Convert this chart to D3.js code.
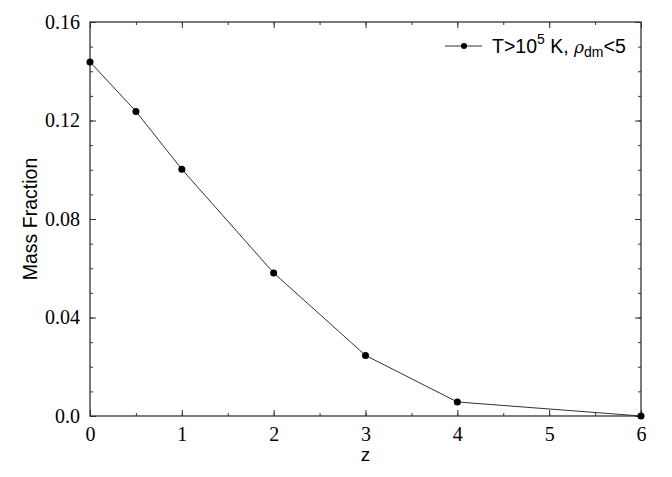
<!DOCTYPE html>
<html>
<head>
<meta charset="utf-8">
<script src="https://cdn.jsdelivr.net/npm/d3@7"></script>
<style>
  html, body { margin: 0; padding: 0; background: #fff; }
  svg { display: block; }
</style>
</head>
<body>
<svg id="chart" width="672" height="477"></svg>
<script>
// Data
const zValues = [0, 0.5, 1, 2, 3, 4, 6];
const massFraction = [0.1438, 0.1237, 0.1002, 0.0581, 0.0246, 0.0057, 0.0];
const xTickValues = [0, 1, 2, 3, 4, 5, 6];
const xTickLabels = ["0", "1", "2", "3", "4", "5", "6"];
const yTickValues = [0, 0.04, 0.08, 0.12, 0.16];
const yTickLabels = ["0.0", "0.04", "0.08", "0.12", "0.16"];

const svg = d3.select("#chart");
const margin = { left: 90, right: 31, top: 22, bottom: 61 };
const W = 672, H = 477;
const x = d3.scaleLinear().domain([0, 6]).range([margin.left, W - margin.right]);
const y = d3.scaleLinear().domain([0, 0.16]).range([H - margin.bottom, margin.top]);

const axisColor = "#333";
const SERIF = '"Liberation Serif"';
const SANS = '"Liberation Sans"';

const xMinor = d3.range(0, 6.001, 0.5);
const yMinor = d3.range(0, 0.1601, 0.01);

function styleAxis(g) {
  g.select(".domain").remove();
  g.selectAll(".tick line").attr("stroke", axisColor).attr("stroke-width", 1);
}
function serifText(g) {
  g.selectAll("text").style("font-family", SERIF).style("font-size", "20px").attr("fill", "#000");
}

// bottom axis (major, labelled)
svg.append("g").attr("transform", `translate(0,${y(0)})`)
  .call(d3.axisBottom(x).tickValues(xTickValues).tickSize(-6).tickPadding(11)
    .tickFormat((d, i) => xTickLabels[i]))
  .call(styleAxis).call(serifText);
svg.append("g").attr("transform", `translate(0,${y(0)})`)
  .call(d3.axisBottom(x).tickValues(xMinor).tickSize(-3).tickFormat(""))
  .call(styleAxis);
// top
svg.append("g").attr("transform", `translate(0,${y(0.16)})`)
  .call(d3.axisTop(x).tickValues(xTickValues).tickSize(-6).tickFormat(""))
  .call(styleAxis);
svg.append("g").attr("transform", `translate(0,${y(0.16)})`)
  .call(d3.axisTop(x).tickValues(xMinor).tickSize(-3).tickFormat(""))
  .call(styleAxis);

// left axis
svg.append("g").attr("transform", `translate(${x(0)},0)`)
  .call(d3.axisLeft(y).tickValues(yTickValues).tickSize(-6).tickPadding(10)
    .tickFormat((d, i) => yTickLabels[i]))
  .call(styleAxis).call(serifText);
svg.append("g").attr("transform", `translate(${x(0)},0)`)
  .call(d3.axisLeft(y).tickValues(yMinor).tickSize(-3).tickFormat(""))
  .call(styleAxis);
// right axis
svg.append("g").attr("transform", `translate(${x(6)},0)`)
  .call(d3.axisRight(y).tickValues(yTickValues).tickSize(-6).tickFormat(""))
  .call(styleAxis);
svg.append("g").attr("transform", `translate(${x(6)},0)`)
  .call(d3.axisRight(y).tickValues(yMinor).tickSize(-3).tickFormat(""))
  .call(styleAxis);

// frame
svg.append("rect")
  .attr("x", x(0)).attr("y", y(0.16))
  .attr("width", x(6) - x(0)).attr("height", y(0) - y(0.16))
  .attr("fill", "none").attr("stroke", axisColor).attr("stroke-width", 1.3);

// data line
const data = zValues.map((z, i) => ({ z, v: massFraction[i] }));
svg.append("path").datum(data)
  .attr("fill", "none").attr("stroke", "#333").attr("stroke-width", 1)
  .attr("d", d3.line().x(d => x(d.z)).y(d => y(d.v)));
svg.append("g").selectAll("circle").data(data).join("circle")
  .attr("cx", d => x(d.z)).attr("cy", d => y(d.v)).attr("r", 3.5).attr("fill", "#000");

// axis titles
svg.append("text").style("font-family", SANS).attr("x", (x(0) + x(6)) / 2).attr("y", 461)
  .attr("text-anchor", "middle").style("font-size", "19px")
  .text("z");
svg.append("text").style("font-family", SANS)
  .attr("transform", `translate(37,${(y(0) + y(0.16)) / 2}) rotate(-90)`)
  .attr("text-anchor", "middle").style("font-size", "19.5px")
  .text("Mass Fraction");

// legend
const legY = 46;
svg.append("line").attr("x1", 445).attr("x2", 482).attr("y1", legY).attr("y2", legY)
  .attr("stroke", "#333").attr("stroke-width", 1);
svg.append("circle").attr("cx", 464).attr("cy", legY).attr("r", 3).attr("fill", "#000");
const lt = svg.append("text").style("font-family", SANS).attr("x", 492).attr("y", 53)
  .style("font-size", "19.5px").attr("fill", "#000");
lt.append("tspan").text("T>10");
lt.append("tspan").attr("dy", -9).style("font-size", "14px").text("5");
lt.append("tspan").attr("dy", 9).text(" K, ");
lt.append("tspan").style("font-style", "italic").style("font-family", '"DejaVu Serif"').style("font-size", "17px").text("ρ");
lt.append("tspan").attr("dy", 4).style("font-size", "14px").text("dm");
lt.append("tspan").attr("dy", -4).text("<5");
</script>
</body>
</html>
